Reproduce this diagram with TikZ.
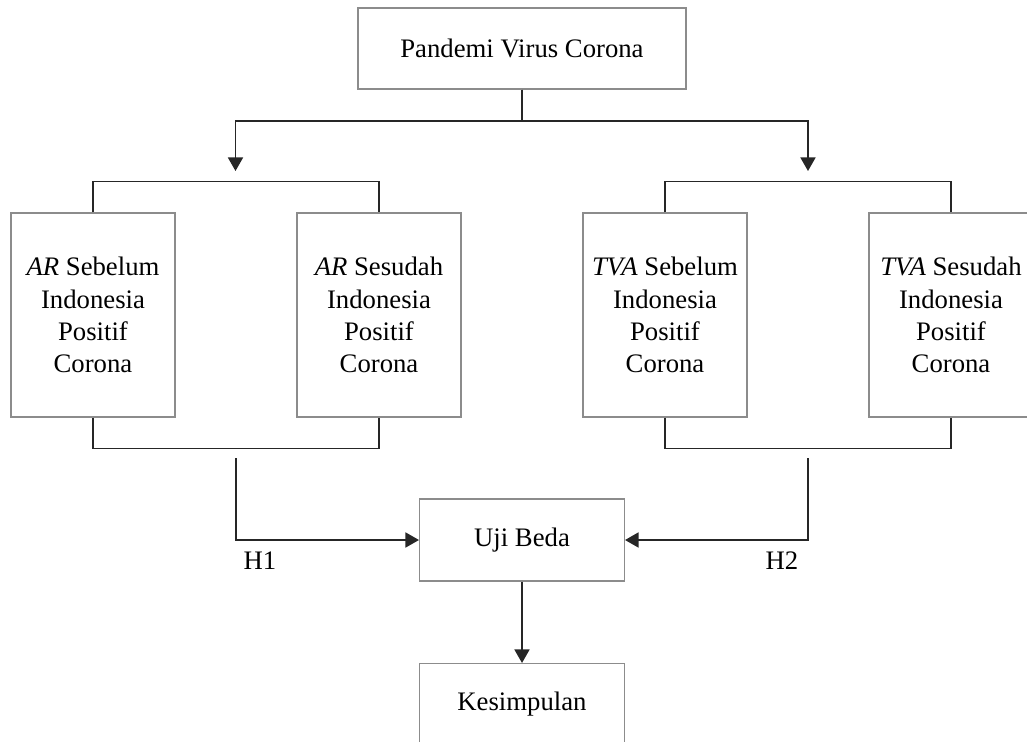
\documentclass[tikz,border=0pt]{standalone}
\usepackage{fontspec}
\setmainfont{Liberation Serif}
\usetikzlibrary{arrows.meta}
\tikzset{
  box/.style={
    rectangle,
    minimum width=4.1cm,
    minimum height=1.64cm,
    inner sep=2pt,
    align=center,
    draw=black!45,
    line width=0.6pt
    },
  tallbox/.style={
    box,
    minimum width=3.28cm,
    minimum height=4.08cm
    },
  link/.style={
    line width=0.9pt,
    draw=black!85
    },
  arrow/.style={link,->,>={Triangle[length=0.27cm,width=0.3cm]}}
}
\begin{document}
\begin{tikzpicture}[
  node distance=5.72cm,
  font=\fontsize{15.2}{18.3}\selectfont
  ]
\useasboundingbox (0,0) rectangle (20.54,-14.84);
\node (virus) [box,minimum width=6.56cm,minimum height=1.62cm] at (10.44,-0.97) {Pandemi Virus Corona};
\node (arSebelum) [tallbox] at (1.86,-6.30) {\textit{AR} Sebelum\\Indonesia\\Positif\\Corona};
\node (arSesudah) [tallbox,right of=arSebelum] {\textit{AR} Sesudah\\Indonesia\\Positif\\Corona};
\node (tvaSebelum) [tallbox,right of=arSesudah] {\textit{TVA} Sebelum\\Indonesia\\Positif\\Corona};
\node (tvaSesudah) [tallbox,right of=tvaSebelum] {\textit{TVA} Sesudah\\Indonesia\\Positif\\Corona};
\node (uji) [box,below of=virus,yshift=-4.11cm] {Uji Beda};
\node (kesimpulan) [box,below of=uji,yshift=2.43cm] {Kesimpulan};
\node (hSatu) at (5.2,-11.22) {H1};
\node (hDua) at (15.64,-11.22) {H2};
% ends of the split and of the H1/H2 lines
\coordinate (splitL) at (4.71,-3.42);
\coordinate (splitR) at (16.16,-3.42);
\coordinate (mergeL) at (4.72,-9.16);
\coordinate (mergeR) at (16.16,-9.16);
\draw[arrow] (virus.south) -- ++(0,-0.63) -| (splitL);
\draw[arrow] (virus.south) -- ++(0,-0.63) -| (splitR);
\draw[link] (arSebelum.north) -- ++(0,0.62) -| (arSesudah.north);
\draw[link] (tvaSebelum.north) -- ++(0,0.62) -| (tvaSesudah.north);
\draw[link] (arSebelum.south) -- ++(0,-0.62) -| (arSesudah.south);
\draw[link] (tvaSebelum.south) -- ++(0,-0.62) -| (tvaSesudah.south);
\draw[arrow] (mergeL) |- (uji.west);
\draw[arrow] (mergeR) |- (uji.east);
\draw[arrow] (uji) -- (kesimpulan);
\end{tikzpicture}
\end{document}
